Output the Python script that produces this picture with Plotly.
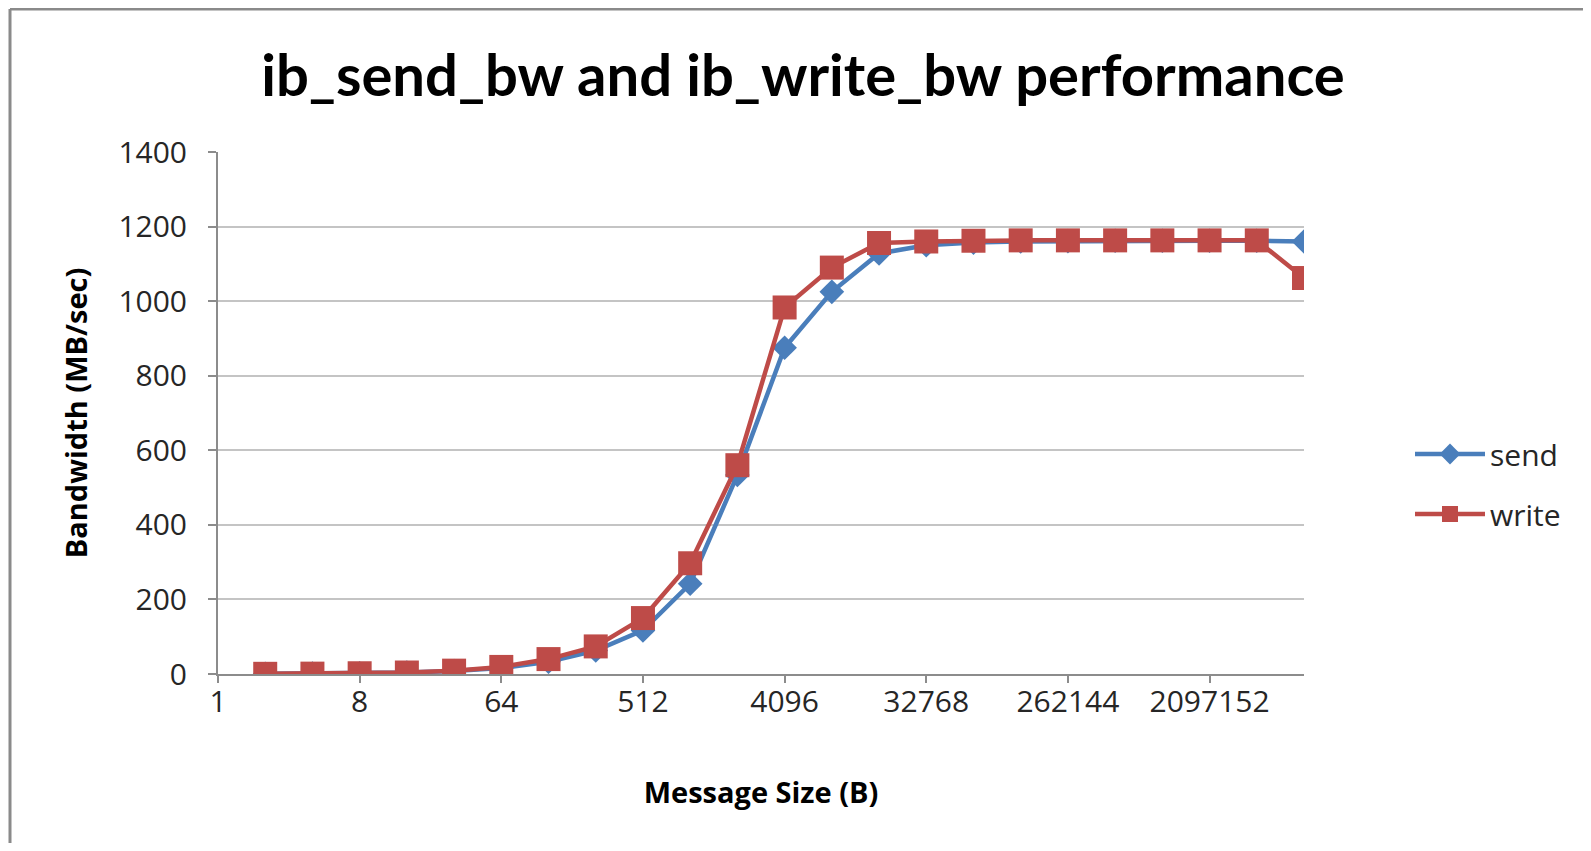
import plotly.graph_objects as go

# Data
message_sizes = [2, 4, 8, 16, 32, 64, 128, 256, 512, 1024, 2048, 4096, 8192, 16384,
                 32768, 65536, 131072, 262144, 524288, 1048576, 2097152, 4194304, 8388608]
send_bw = [0.5, 1, 2, 4, 8, 16, 33, 63, 117, 242, 534, 875, 1025, 1128,
           1150, 1157, 1160, 1161, 1162, 1162, 1162, 1162, 1160]
write_bw = [0.5, 1, 2, 4, 9, 19, 40, 74, 150, 297, 560, 983, 1090, 1156,
            1160, 1162, 1163, 1163, 1163, 1163, 1163, 1163, 1062]
x_tick_vals = [1, 8, 64, 512, 4096, 32768, 262144, 2097152]
x_tick_text = ["1", "8", "64", "512", "4096", "32768", "262144", "2097152"]
y_tick_vals = [0, 200, 400, 600, 800, 1000, 1200, 1400]

OFF = 8  # default page body margin
PW, PH = 1591, 851
W, H = PW - 2 * OFF, PH - 2 * OFF
# plot area in page pixels
L, R, T, B = 218, 1304, 152, 674

def px(xp):
    return (xp - L) / (R - L)

def py(yp):
    return (B - yp) / (B - T)

FONT = "Open Sans"
fig = go.Figure()
fig.add_trace(go.Scatter(
    x=message_sizes, y=send_bw, name="send", mode="lines+markers",
    line=dict(color="#4A7EBB", width=4.5),
    marker=dict(symbol="diamond", size=19, color="#4A7EBB"),
    legendgroup="a",
))
fig.add_trace(go.Scatter(
    x=message_sizes, y=write_bw, name="write", mode="lines+markers",
    line=dict(color="#BE4B48", width=4.5),
    marker=dict(symbol="square", size=24, color="#BE4B48"),
    legendgroup="b",
))

fig.update_layout(
    width=W, height=H,
    margin=dict(l=L - OFF, r=(PW - OFF) - R, t=T - OFF, b=(PH - OFF) - B),
    paper_bgcolor="white", plot_bgcolor="white",
    font=dict(family=FONT, size=30, color="#262626"),
    title=dict(text="<b>ib_send_bw and ib_write_bw performance</b>",
               x=(803 - OFF) / W, xanchor="center", y=1 - (76 - OFF) / H, yanchor="middle",
               font=dict(family="Lato", size=58, color="black")),
    legend=dict(x=px(1410), y=py(484), xanchor="left", yanchor="middle",
                font=dict(family=FONT, size=30, color="#262626"),
                itemwidth=70,
                tracegroupgap=18, traceorder="grouped", bgcolor="rgba(0,0,0,0)"),
    showlegend=True,
)

fig.update_xaxes(
    type="log", range=[0, 6.9237],
    tickvals=x_tick_vals, ticktext=x_tick_text,
    showgrid=False, showline=True, linecolor="#8c8c8c", linewidth=2,
    ticks="outside", ticklen=7, tickcolor="#8c8c8c", tickwidth=2,
    ticklabelstandoff=-7,
    title=dict(text="<b>Message Size (B)</b>", font=dict(family=FONT, size=29, color="black"),
               standoff=63),
    zeroline=False,
)
fig.update_yaxes(
    range=[0, 1400], tickvals=y_tick_vals,
    showgrid=True, gridcolor="#c4c4c4", gridwidth=2,
    showline=True, linecolor="#8c8c8c", linewidth=2,
    ticks="outside", ticklen=8, tickcolor="#8c8c8c", tickwidth=2,
    ticklabelstandoff=15,
    title=dict(text="<b>Bandwidth (MB/sec)</b>", font=dict(family=FONT, size=29, color="black"),
               standoff=22),
    zeroline=False,
)

# Outer chart frame (top and left edges visible)
fig.add_shape(type="line", xref="paper", yref="paper",
              x0=px(10), x1=px(PW + 5), y0=py(9), y1=py(9),
              line=dict(color="#8a8a8a", width=3))
fig.add_shape(type="line", xref="paper", yref="paper",
              x0=px(10), x1=px(10), y0=py(9), y1=py(PH + 5),
              line=dict(color="#8a8a8a", width=3))

fig.write_html("out.html")
